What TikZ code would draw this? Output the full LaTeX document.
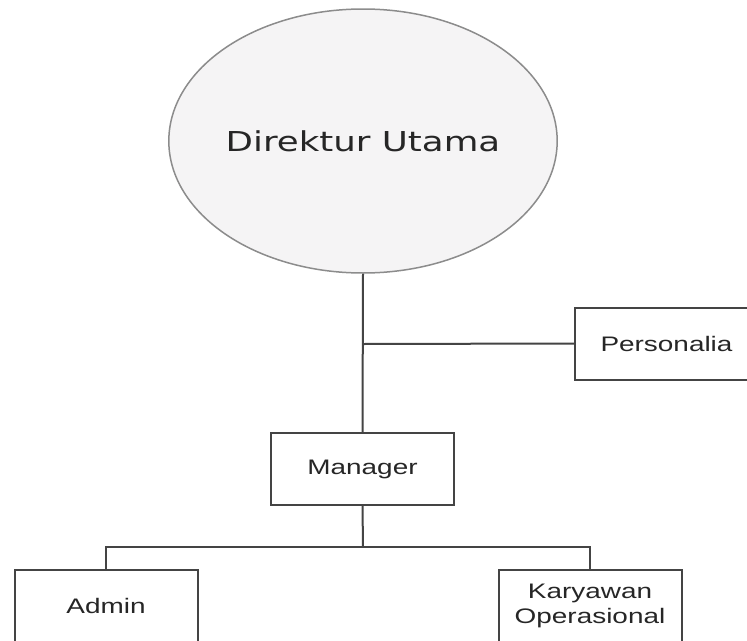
\documentclass[tikz,border=0pt]{standalone}
\usepackage{fontspec}
\usepackage{xcolor}
\usepackage{tikz}
\usetikzlibrary{shapes.geometric, positioning}
\newfontfamily\headfont[FakeStretch=1.3]{DejaVu Sans}
\newfontfamily\boxfont[FakeStretch=1.33]{Liberation Sans}
\definecolor{linegray}{HTML}{444444}
\definecolor{rimgray}{HTML}{8C8C8C}
\definecolor{headfill}{HTML}{F5F4F5}
\definecolor{textgray}{HTML}{262626}

\begin{document}
\begin{tikzpicture}[
            x=1pt, y=-1pt,
            every node/.style={
                    text=textgray,
                    inner sep=0pt,
                    align=center
                },
            head unit/.style={
                    ellipse,
                    draw=rimgray,
                    fill=headfill,
                    line width=1.5pt,
                    minimum width=336pt,
                    minimum height=264pt,
                    font=\headfont\fontsize{27.4}{33}\selectfont
                },
            unit box/.style={
                    rectangle,
                    draw=linegray,
                    fill=white,
                    line width=2pt,
                    minimum width=183pt,
                    minimum height=72pt,
                    font=\boxfont\fontsize{21}{25}\selectfont
                },
            org line/.style={
                    draw=linegray,
                    line width=2pt
                }
        ]

        \clip (0,0) rectangle (747,640);
        \fill[white] (0,0) rectangle (747,640);

        % Direktur
        \node[head unit] (direktur) at (363,141) {Direktur Utama};

        % Staff units
        \node[unit box] (personalia) at (666.5,343.5) {Personalia};
        \node[unit box] (manager) at (362.5,469) {Manager};
        \node[unit box] (admin) at (106,606) {Admin};
        \node[unit box] (karyawan) at (590,606) {Karyawan\\Operasional};

        % Junctions
        \coordinate (staff-joint) at (363,344);
        \coordinate (bus) at (363,547);

        % Connections
        \draw[org line] (direktur.south) -- (manager.north);
        \draw[org line] (staff-joint) -- (personalia.west);
        \draw[org line] (manager.south) -- (bus);
        \foreach \unit in {admin, karyawan} {
                \draw[org line] (bus) -| (\unit.north);
            }

    \end{tikzpicture}
\end{document}
